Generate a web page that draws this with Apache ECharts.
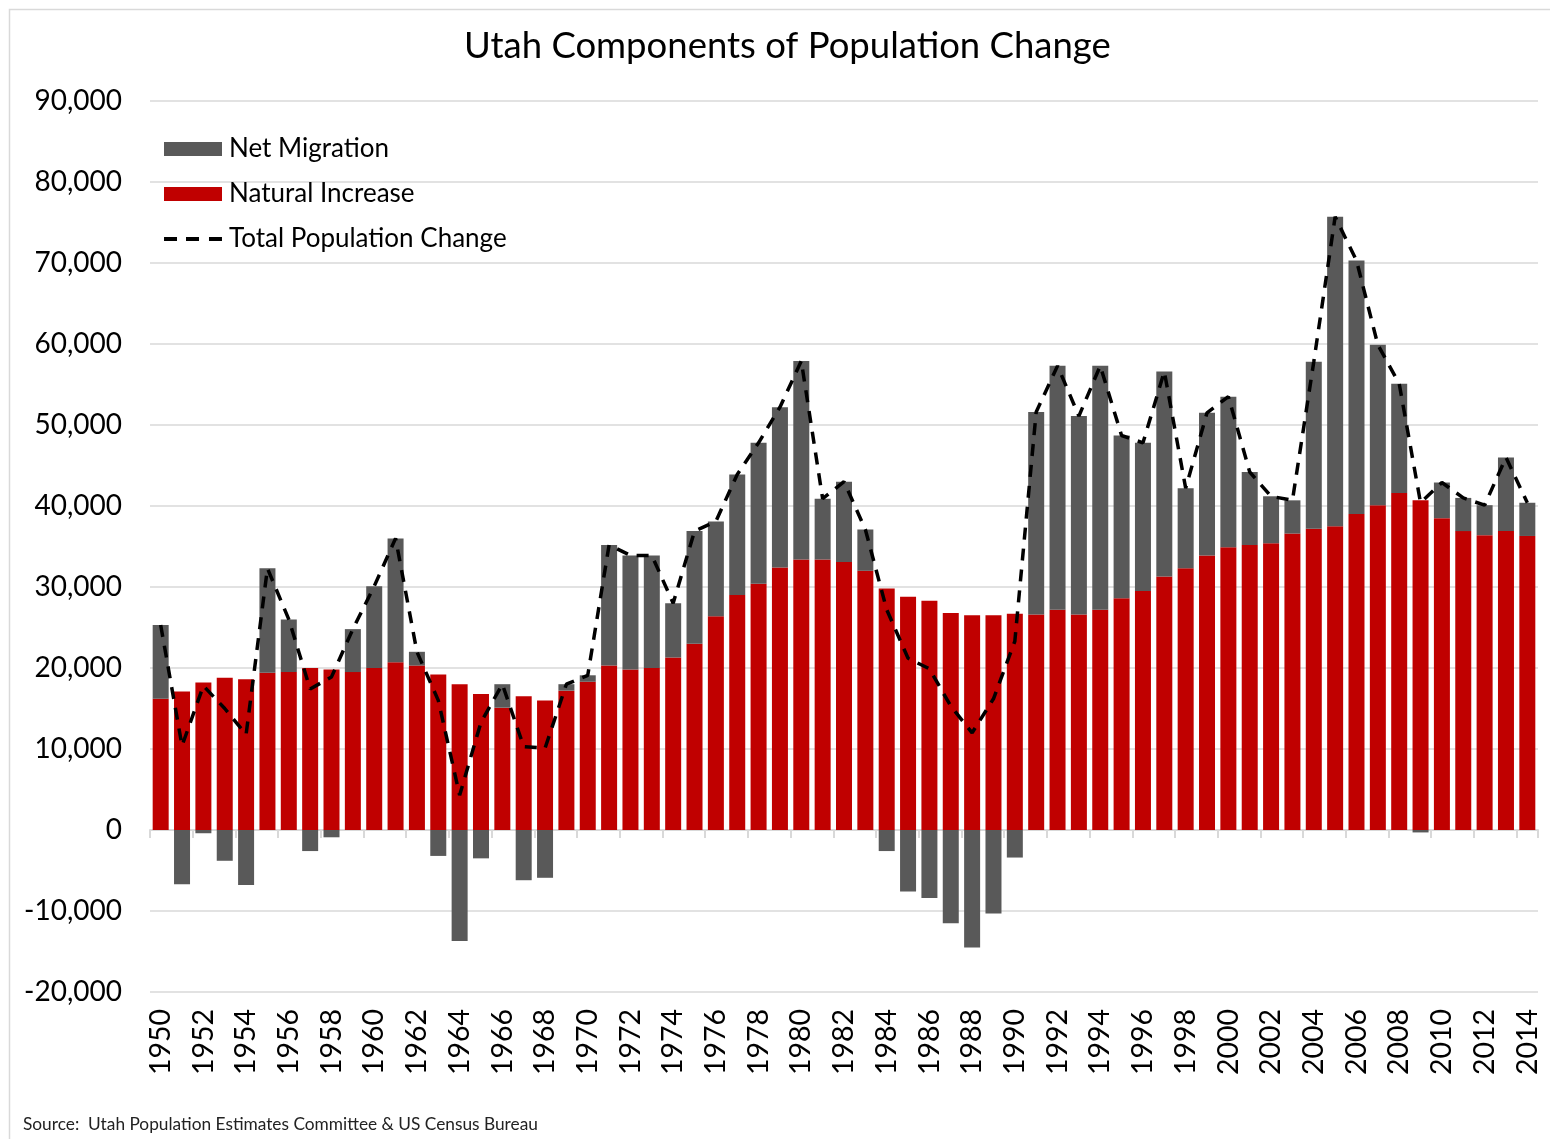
<!DOCTYPE html>
<html>
<head>
<meta charset="utf-8">
<script src="https://cdn.jsdelivr.net/npm/echarts@6/dist/echarts.min.js"></script>
<style>
html,body{margin:0;padding:0;background:#fff;}
#chart{width:1550px;height:1139px;}
</style>
</head>
<body>
<div id="chart"></div>
<script>
const years = ["1950","1951","1952","1953","1954","1955","1956","1957","1958","1959","1960","1961","1962","1963","1964","1965","1966","1967","1968","1969","1970","1971","1972","1973","1974","1975","1976","1977","1978","1979","1980","1981","1982","1983","1984","1985","1986","1987","1988","1989","1990","1991","1992","1993","1994","1995","1996","1997","1998","1999","2000","2001","2002","2003","2004","2005","2006","2007","2008","2009","2010","2011","2012","2013","2014"];

const naturalIncrease = [16200,17100,18200,18800,18600,19400,19500,20000,19800,19500,20000,20700,20300,19200,18000,16800,15100,16500,16000,17200,18300,20300,19800,20000,21300,23000,26400,29000,30400,32400,33400,33400,33100,32000,29800,28800,28300,26800,26500,26500,26700,26600,27200,26600,27200,28600,29500,31300,32300,33900,34900,35200,35400,36600,37200,37500,39000,40100,41600,40700,38500,36900,36400,36900,36300];

const netMigration = [9100,-6700,-400,-3800,-6800,12900,6500,-2600,-900,5300,10100,15300,1700,-3200,-13700,-3500,2900,-6200,-5900,800,800,14900,14100,13900,6700,13900,11700,14900,17400,19800,24500,7500,9900,5100,-2600,-7600,-8400,-11500,-14500,-10300,-3400,25000,30100,24500,30100,20100,18300,25300,9900,17600,18600,9000,5800,4100,20600,38200,31300,19800,13500,-300,4400,4100,3700,9100,4100];

const totalChange = [25300,10400,17800,15000,11800,32300,26000,17400,18900,24800,30100,36000,22000,16000,4300,13300,18000,10300,10100,18000,19100,35200,33900,33900,28000,36900,38100,43900,47800,52200,57900,40900,43000,37100,27200,21200,19900,15300,12000,16200,23300,51600,57300,51100,57300,48700,47800,56600,42200,51500,53500,44200,41200,40700,57800,75700,70300,59900,55100,40400,42900,41000,40100,46000,40400];

const FONT = 'Lato';
const dashIcon = 'path://M0,5h13v4h-13z M22,5h13v4h-13z M45,5h13v4h-13z M0,0h0.01v0.01h-0.01z M0,14h0.01v0.01h-0.01z';
const chart = echarts.init(document.getElementById('chart'), null, {renderer:'canvas'});
chart.setOption({
  animation:false,
  backgroundColor:'#fff',
  textStyle:{fontFamily:FONT},
  title:{
    text:'Utah Components of Population Change',
    left:459, top:23,
    textStyle:{fontFamily:FONT,fontSize:36.5,fontWeight:'normal',color:'#000'}
  },
  graphic:[
    {type:'rect',shape:{x:9.5,y:9.5,width:1600,height:1200},style:{fill:'none',stroke:'#d9d9d9',lineWidth:1.5},silent:true},
    {type:'text',left:23,top:1116,style:{text:'Source:  Utah Population Estimates Committee & US Census Bureau',fontFamily:FONT,fontSize:17.3,fill:'#222'}}
  ],
  legend:{
    orient:'vertical',
    left:164, top:136, padding:0,
    itemWidth:58, itemHeight:14, itemGap:19,
    textStyle:{fontFamily:FONT,fontSize:26,color:'#000',padding:[0,0,0,2]},
    data:[
      {name:'Net Migration',icon:'rect'},
      {name:'Natural Increase',icon:'rect'},
      {name:'Total Population Change',icon:dashIcon,itemStyle:{color:'#000'}}
    ]
  },
  grid:{left:150,right:12,top:101,bottom:147,containLabel:false},
  xAxis:[
    {
      type:'category', data:years, boundaryGap:true,
      axisLine:{onZero:true,lineStyle:{color:'#d9d9d9',width:2}},
      axisTick:{show:true,interval:1,length:8,lineStyle:{color:'#d9d9d9',width:2}},
      axisLabel:{show:false}
    },
    {
      type:'category', data:years, boundaryGap:true, position:'bottom',
      axisLine:{show:false,onZero:false}, axisTick:{show:false},
      axisLabel:{show:true,interval:1,rotate:90,fontFamily:FONT,fontSize:28.5,color:'#000',margin:17}
    }
  ],
  yAxis:{
    type:'value', min:-20000, max:90000, interval:10000,
    axisLine:{show:false}, axisTick:{show:false},
    axisLabel:{fontFamily:FONT,fontSize:28,color:'#000',margin:28,
      formatter:v=>v.toLocaleString('en-US')},
    splitLine:{lineStyle:{color:'#d9d9d9',width:1.5}}
  },
  series:[
    {name:'Natural Increase',type:'bar',stack:'pop',data:naturalIncrease,barWidth:16,
      itemStyle:{color:'#c00000'}},
    {name:'Net Migration',type:'bar',stack:'pop',data:netMigration,barWidth:16,
      itemStyle:{color:'#595959'}},
    {name:'Total Population Change',type:'line',data:totalChange,symbol:'none',
      lineStyle:{color:'#000',width:3.5,type:[12,9]},itemStyle:{color:'#000'},z:5}
  ]
});
</script>
</body>
</html>
